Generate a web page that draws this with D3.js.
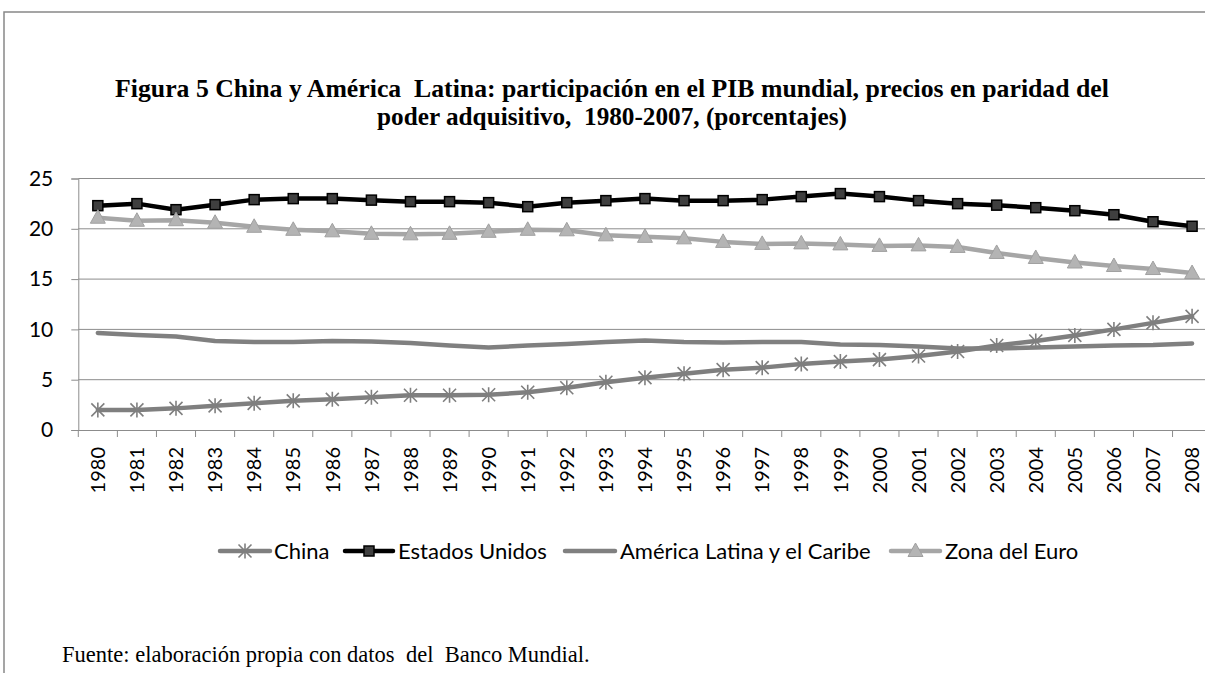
<!DOCTYPE html>
<html><head><meta charset="utf-8">
<script src="https://cdn.jsdelivr.net/npm/d3@7"></script>
<style>body{margin:0;background:#fff;overflow:hidden}</style>
</head><body><svg id="c" width="1205" height="673"></svg>
<script>
const years = ["1980","1981","1982","1983","1984","1985","1986","1987","1988","1989","1990","1991","1992","1993","1994","1995","1996","1997","1998","1999","2000","2001","2002","2003","2004","2005","2006","2007","2008"];
const china = [2.0,2.0,2.15,2.4,2.65,2.9,3.05,3.25,3.45,3.45,3.5,3.75,4.2,4.75,5.2,5.6,6.0,6.2,6.55,6.8,7.0,7.35,7.8,8.4,8.85,9.4,10.0,10.65,11.3];
const eeuu = [22.3,22.5,21.9,22.4,22.9,23.0,23.0,22.85,22.7,22.7,22.6,22.2,22.6,22.8,23.0,22.8,22.8,22.9,23.2,23.5,23.2,22.8,22.5,22.35,22.1,21.8,21.4,20.7,20.25];
const alc = [9.65,9.45,9.3,8.85,8.75,8.75,8.85,8.8,8.65,8.4,8.2,8.4,8.55,8.75,8.9,8.75,8.7,8.75,8.75,8.5,8.45,8.3,8.1,8.1,8.2,8.3,8.4,8.45,8.6];
const euro = [21.1,20.8,20.85,20.6,20.2,19.9,19.75,19.5,19.45,19.5,19.7,19.9,19.85,19.35,19.2,19.05,18.7,18.5,18.55,18.45,18.3,18.35,18.2,17.6,17.1,16.65,16.3,16.0,15.6];
const yTicks = [0,5,10,15,20,25];
const seriesNames = ["China","Estados Unidos","América Latina y el Caribe","Zona del Euro"];
const titleLines = ["Figura 5 China y América  Latina: participación en el PIB mundial, precios en paridad del","poder adquisitivo,  1980-2007, (porcentajes)"];
const sourceText = "Fuente: elaboración propia con datos  del  Banco Mundial.";

const svg = d3.select("#c");
const SANS = "Lato, 'Open Sans', sans-serif";
const SERIF = "'Liberation Serif', 'Times New Roman', serif";

function fit(sel, w){
  sel.style("font-size","100px");
  const l = sel.node().getComputedTextLength();
  sel.style("font-size", (100*w/l)+"px");
  return sel;
}

// frame
svg.append("path").attr("d","M4,673V12H1205").attr("fill","none").attr("stroke","#888").attr("stroke-width",1.5);

// title
titleLines[0] = titleLines[0].replace("America","América");
const tb = [97, 125], tw = [994, 470];
titleLines.forEach((t,i)=>{
  const s = svg.append("text").attr("x",612).attr("y",tb[i]).attr("text-anchor","middle")
    .style("font-family",SERIF).style("font-weight","bold").style("white-space","pre").text(t);
  fit(s, tw[i]);
});

// scales
const x = d3.scaleBand().domain(years).range([78.3, 78.3 + 39.08*years.length]);
const y = d3.scaleLinear().domain([0,25]).range([430, 178.5]);
const cx = d => x(d) + x.bandwidth()/2;

// grid
svg.append("g").selectAll("line").data(yTicks.filter(d=>d>0)).join("line")
  .attr("x1",x.range()[0]).attr("x2",x.range()[1]).attr("y1",d=>y(d)).attr("y2",d=>y(d))
  .attr("stroke","#8c8c8c").attr("stroke-width",1);

// y axis
const ya = svg.append("g").attr("transform",`translate(${x.range()[0]},0)`)
  .call(d3.axisLeft(y).tickValues(yTicks).tickSize(7).tickPadding(18));
ya.select(".domain").attr("stroke","#8c8c8c");
ya.selectAll(".tick line").attr("stroke","#8c8c8c");
ya.selectAll("text").style("font-family",SANS).style("font-size","21px").attr("fill","#000");

// x axis
const xa = svg.append("g").attr("transform",`translate(0,${y(0)})`)
  .call(d3.axisBottom(x).tickSize(0).tickFormat(""));
xa.select(".domain").attr("stroke","#8c8c8c");
svg.append("g").selectAll("line").data(years.concat(["end"])).join("line")
  .attr("x1",(d,i)=>x.range()[0]+i*x.step()).attr("x2",(d,i)=>x.range()[0]+i*x.step())
  .attr("y1",y(0)).attr("y2",y(0)+7).attr("stroke","#8c8c8c");
svg.append("g").selectAll("text").data(years).join("text")
  .attr("transform",d=>`translate(${cx(d)},${y(0)+17}) rotate(-90)`)
  .attr("text-anchor","end").attr("dy","0.36em")
  .style("font-family",SANS).style("font-size","20px").text(d=>d);

// series
const series = [
  {name:seriesNames[0], vals:china, color:"#7f7f7f", w:4.5, marker:"star"},
  {name:seriesNames[1], vals:eeuu, color:"#000", w:4.5, marker:"square"},
  {name:seriesNames[2], vals:alc, color:"#808080", w:4.5, marker:null},
  {name:seriesNames[3], vals:euro, color:"#a6a6a6", w:4.5, marker:"tri"}
];
const line = d3.line().x((d,i)=>cx(years[i])).y(d=>y(d));

function drawMarker(g, type, px, py){
  if(type==="square"){
    g.append("rect").attr("x",px-5).attr("y",py-5).attr("width",10).attr("height",10)
      .attr("fill","#3f3f3f").attr("stroke","#000").attr("stroke-width",1.5);
  } else if(type==="tri"){
    g.append("path").attr("d",`M${px},${py-8}L${px+7.5},${py+5.5}L${px-7.5},${py+5.5}Z`)
      .attr("fill","#b4b4b4").attr("stroke","#a0a0a0").attr("stroke-width",1);
  } else if(type==="star"){
    const r=6.5;
    g.append("path").attr("d",`M${px-r},${py-r}L${px+r},${py+r}M${px-r},${py+r}L${px+r},${py-r}M${px},${py-r-1}L${px},${py+r+1}`)
      .attr("stroke","#7f7f7f").attr("stroke-width",1.6).attr("fill","none");
  }
}

series.forEach(s=>{
  svg.append("path").datum(s.vals).attr("d",line).attr("fill","none")
    .attr("stroke",s.color).attr("stroke-width",s.w).attr("stroke-linejoin","round").attr("stroke-linecap","round");
  if(s.marker){
    const g = svg.append("g");
    s.vals.forEach((v,i)=>drawMarker(g, s.marker, cx(years[i]), y(v)));
  }
});

// legend
const legY = 551;
const legPos = [{x1:220,x2:270,tx:274},{x1:345,x2:393,tx:398},{x1:565,x2:615,tx:620},{x1:891,x2:940,tx:945}];
const lg = svg.append("g");
series.forEach((s,i)=>{
  const p = legPos[i];
  lg.append("line").attr("x1",p.x1).attr("x2",p.x2).attr("y1",legY).attr("y2",legY)
    .attr("stroke",s.color).attr("stroke-width",s.w).attr("stroke-linecap","round");
  if(s.marker) drawMarker(lg, s.marker, (p.x1+p.x2)/2, legY);
  const t = lg.append("text").attr("x",p.tx).attr("y",legY).attr("dy","0.35em")
    .style("font-family",SANS).text(s.name);
  if(i===1) fit(t,149); else t.style("font-size","22px");
});

// source
const src = svg.append("text").attr("x",62).attr("y",662).style("font-family",SERIF)
  .style("white-space","pre").text(sourceText);
fit(src, 528);
</script></body></html>
